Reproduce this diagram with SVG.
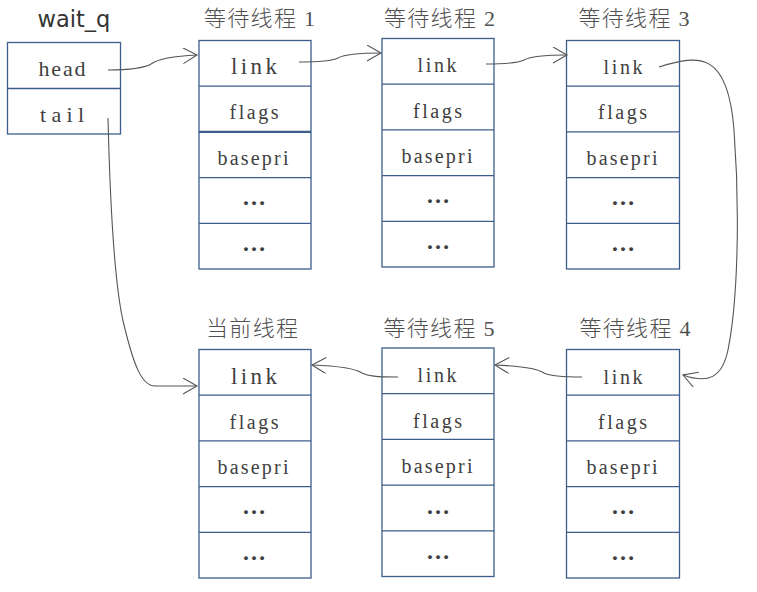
<svg xmlns="http://www.w3.org/2000/svg" width="757" height="592" viewBox="0 0 757 592">
<defs>
<style>
.box{fill:#fff;stroke:#3a5d8c;stroke-width:1.3}
.ln{stroke:#3a5d8c;stroke-width:1.3}
.t{font-family:"Liberation Serif","DejaVu Serif",serif;fill:#404040;text-anchor:middle}
.f{font-size:20px}
.d{font-size:24px;font-weight:bold}
.ttl{font-family:"Liberation Serif","Noto Sans CJK SC",sans-serif;font-size:22px;font-weight:300;fill:#505050;text-anchor:middle}
.con{fill:none;stroke:#555;stroke-width:1.1;marker-end:url(#arr)}
</style>
<marker id="arr" markerUnits="userSpaceOnUse" markerWidth="20" markerHeight="20" refX="15" refY="8" orient="auto" viewBox="0 0 20 20">
<path d="M1,0 L15,8 L1,16" fill="none" stroke="#555" stroke-width="1.1"/>
</marker>
</defs>
<rect width="757" height="592" fill="#fff"/>

<g id="wait_q">
<text x="74" y="27" font-family="DejaVu Sans,sans-serif" font-size="22.5" fill="#333" text-anchor="middle">wait_q</text>
<rect class="box" x="7.5" y="42.5" width="113" height="91.5"/>
<line class="ln" x1="7.5" y1="88.5" x2="120.5" y2="88.5"/>
<text class="t" x="62" y="76" font-size="22" textLength="47">head</text>
<text class="t" x="62" y="122" font-size="22" textLength="44">tail</text>
</g>

<g id="thread1" transform="translate(199,40.5)">
<text class="ttl" x="60.5" y="-14.5" textLength="111">等待线程 1</text>
<rect class="box" x="0" y="0" width="112" height="228.5"/>
<line class="ln" x1="0" y1="45.7" x2="112" y2="45.7"/>
<line class="ln" x1="0" y1="91.4" x2="112" y2="91.4" style="stroke-width:2.2"/>
<line class="ln" x1="0" y1="137.1" x2="112" y2="137.1"/>
<line class="ln" x1="0" y1="182.8" x2="112" y2="182.8"/>
<text class="t" x="55" y="33" font-size="23" textLength="46">link</text>
<text class="t f" x="55" y="78.5" textLength="49">flags</text>
<text class="t f" x="54" y="124" textLength="71">basepri</text>
<text class="t d" x="55" y="164.5">…</text>
<text class="t d" x="55" y="210.5">…</text>
</g>

<g id="thread2" transform="translate(382,38.5)">
<text class="ttl" x="57.5" y="-12.5" textLength="111">等待线程 2</text>
<rect class="box" x="0" y="0" width="112" height="228.5"/>
<line class="ln" x1="0" y1="45.7" x2="112" y2="45.7"/>
<line class="ln" x1="0" y1="91.4" x2="112" y2="91.4"/>
<line class="ln" x1="0" y1="137.1" x2="112" y2="137.1"/>
<line class="ln" x1="0" y1="182.8" x2="112" y2="182.8"/>
<text class="t f" x="55" y="33.5" textLength="39">link</text>
<text class="t f" x="55.5" y="79" textLength="49">flags</text>
<text class="t f" x="55" y="124.5" textLength="71">basepri</text>
<text class="t d" x="56" y="164.5">…</text>
<text class="t d" x="56" y="210">…</text>
</g>

<g id="thread3" transform="translate(566.5,40.5)">
<text class="ttl" x="67.5" y="-14.5" textLength="111">等待线程 3</text>
<rect class="box" x="0" y="0" width="113" height="228.5"/>
<line class="ln" x1="0" y1="45.7" x2="113" y2="45.7"/>
<line class="ln" x1="0" y1="91.4" x2="113" y2="91.4"/>
<line class="ln" x1="0" y1="137.1" x2="113" y2="137.1"/>
<line class="ln" x1="0" y1="182.8" x2="113" y2="182.8"/>
<text class="t f" x="56.5" y="33" textLength="39">link</text>
<text class="t f" x="56" y="78.5" textLength="49">flags</text>
<text class="t f" x="55.5" y="124" textLength="71">basepri</text>
<text class="t d" x="56.5" y="164.5">…</text>
<text class="t d" x="56.5" y="210.5">…</text>
</g>

<g id="current" transform="translate(199,349.5)">
<text class="ttl" x="53" y="-13.5" textLength="92">当前线程</text>
<rect class="box" x="0" y="0" width="112" height="228.5"/>
<line class="ln" x1="0" y1="45.7" x2="112" y2="45.7"/>
<line class="ln" x1="0" y1="91.4" x2="112" y2="91.4"/>
<line class="ln" x1="0" y1="137.1" x2="112" y2="137.1"/>
<line class="ln" x1="0" y1="182.8" x2="112" y2="182.8"/>
<text class="t" x="55" y="34" font-size="23" textLength="46">link</text>
<text class="t f" x="55" y="79" textLength="49">flags</text>
<text class="t f" x="54" y="124.5" textLength="71">basepri</text>
<text class="t d" x="55" y="164.5">…</text>
<text class="t d" x="55" y="210">…</text>
</g>

<g id="thread5" transform="translate(382,348)">
<text class="ttl" x="57" y="-12.5" textLength="111">等待线程 5</text>
<rect class="box" x="0" y="0" width="112" height="228.5"/>
<line class="ln" x1="0" y1="45.7" x2="112" y2="45.7"/>
<line class="ln" x1="0" y1="91.4" x2="112" y2="91.4"/>
<line class="ln" x1="0" y1="137.1" x2="112" y2="137.1"/>
<line class="ln" x1="0" y1="182.8" x2="112" y2="182.8"/>
<text class="t f" x="55" y="34" textLength="39">link</text>
<text class="t f" x="55.5" y="79.5" textLength="49">flags</text>
<text class="t f" x="55" y="125" textLength="71">basepri</text>
<text class="t d" x="56" y="165.5">…</text>
<text class="t d" x="56" y="210.5">…</text>
</g>

<g id="thread4" transform="translate(566.5,349.5)">
<text class="ttl" x="68.5" y="-13.5" textLength="111">等待线程 4</text>
<rect class="box" x="0" y="0" width="113" height="228.5"/>
<line class="ln" x1="0" y1="45.7" x2="113" y2="45.7"/>
<line class="ln" x1="0" y1="91.4" x2="113" y2="91.4"/>
<line class="ln" x1="0" y1="137.1" x2="113" y2="137.1"/>
<line class="ln" x1="0" y1="182.8" x2="113" y2="182.8"/>
<text class="t f" x="56.5" y="34" textLength="39">link</text>
<text class="t f" x="56" y="79" textLength="49">flags</text>
<text class="t f" x="55.5" y="124.5" textLength="71">basepri</text>
<text class="t d" x="56.5" y="164.5">…</text>
<text class="t d" x="56.5" y="210">…</text>
</g>

<g id="connectors">
<path class="con" d="M108,70 C132,70 144,68 151,64 C158,59 175,56 197,55"/>
<path class="con" d="M299,62 C320,62 332,61 338,58 C345,54 360,53 381,53"/>
<path class="con" d="M486,64 C505,64 518,63 524,60 C531,56 546,55 567,55"/>
<path class="con" d="M659,67 C700,54 728,52 734,130 C740,210 738,300 728,350 C722,378 708,384 683,375"/>
<path class="con" d="M582,377 C560,377 550,376 544,373 C537,368 520,366 495,365"/>
<path class="con" d="M398,377 C376,377 368,376 362,373 C355,368 338,366 312,365"/>
<path class="con" d="M108,118 C110,200 114,285 124,325 C133,362 141,386 155,386 L197,386"/>
</g>
</svg>
